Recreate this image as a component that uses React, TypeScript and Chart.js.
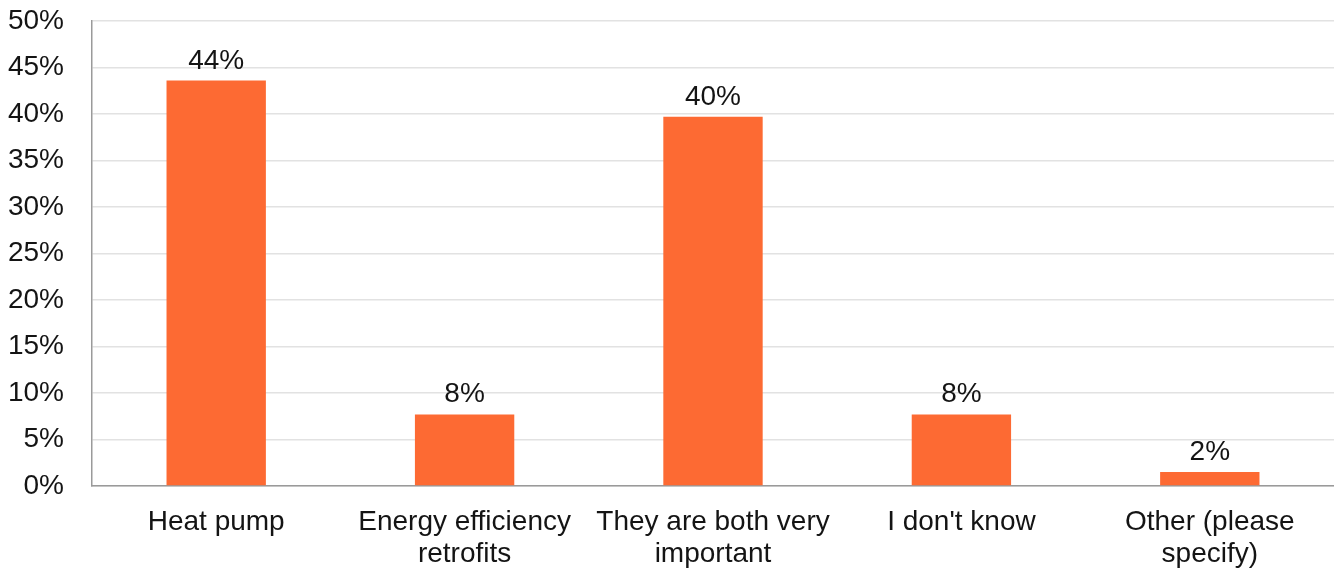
import React, { useEffect, useRef } from "react";
import { Chart, registerables } from "chart.js";

Chart.register(...registerables);

const categories: (string | string[])[] = [
  "Heat pump",
  ["Energy efficiency", "retrofits"],
  ["They are both very", "important"],
  "I don't know",
  ["Other (please", "specify)"],
];
const values: number[] = [43.6, 7.7, 39.7, 7.7, 1.5];
const valueLabels: string[] = ["44%", "8%", "40%", "8%", "2%"];
const yTicks: number[] = [0, 5, 10, 15, 20, 25, 30, 35, 40, 45, 50];

const FONT = "'Liberation Sans', Arial, Helvetica, sans-serif";
const TEXT = "#141414";

const valueLabelPlugin = {
  id: "valueLabels",
  afterDatasetsDraw(chart: any) {
    const ctx = chart.ctx;
    const meta = chart.getDatasetMeta(0);
    ctx.save();
    ctx.font = `28px ${FONT}`;
    ctx.fillStyle = TEXT;
    ctx.textAlign = "center";
    ctx.textBaseline = "alphabetic";
    meta.data.forEach((bar: any, i: number) => {
      ctx.fillText(valueLabels[i], bar.x, bar.y - 12);
    });
    ctx.restore();
  },
};

export default function App() {
  const ref = useRef<HTMLCanvasElement>(null);
  useEffect(() => {
    document.body.style.margin = "0";
    const chart = new Chart(ref.current!, {
      type: "bar",
      data: {
        labels: categories,
        datasets: [
          {
            data: values,
            backgroundColor: "#FD6A33",
            barPercentage: 0.4,
            categoryPercentage: 1,
          },
        ],
      },
      options: {
        animation: false,
        responsive: false,
        maintainAspectRatio: false,
        layout: { padding: { top: 0, left: 6, right: 0, bottom: 0 } },
        plugins: { legend: { display: false }, tooltip: { enabled: false } },
        scales: {
          x: {
            grid: { display: false },
            border: { color: "#9a9a9a", width: 1.5 },
            afterFit: (axis: any) => {
              axis.height = 83;
              axis.paddingLeft = 0;
              axis.paddingRight = 0;
            },
            ticks: {
              color: TEXT,
              font: { family: FONT, size: 28, lineHeight: 1.15 },
              padding: 12,
              maxRotation: 0,
              autoSkip: false,
            },
          },
          y: {
            min: 0,
            max: 50,
            afterBuildTicks: (axis: any) => {
              axis.ticks = yTicks.map((v) => ({ value: v }));
            },
            afterFit: (axis: any) => {
              axis.width = 86;
              axis.paddingTop = 21;
              axis.paddingBottom = 14;
            },
            grid: { color: "#e2e2e2", lineWidth: 1.5, drawTicks: false },
            border: { color: "#9a9a9a", width: 1.5 },
            ticks: {
              color: TEXT,
              font: { family: FONT, size: 28 },
              padding: 28,
              callback: (v: any) => `${v}%`,
            },
          },
        },
      },
      plugins: [valueLabelPlugin],
    });
    return () => chart.destroy();
  }, []);
  return (
    <div style={{ width: 1334, height: 569 }}>
      <canvas ref={ref} width={1334} height={569} style={{ display: "block" }} />
    </div>
  );
}
